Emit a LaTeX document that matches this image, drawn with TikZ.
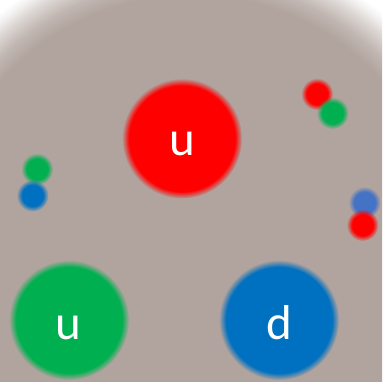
\documentclass[tikz,border=0pt]{standalone}
\usepackage{fontspec}
\setmainfont{Carlito}
\usetikzlibrary{fadings}

\definecolor{bgc}{RGB}{177,164,158}
\definecolor{qred}{RGB}{255,0,0}
\definecolor{qgreen}{RGB}{0,176,80}
\definecolor{qblue}{RGB}{0,112,192}
\definecolor{qlblue}{RGB}{68,114,196}

% soft vignette towards the upper corners
\pgfdeclareradialshading{vignette}{\pgfpointorigin}{%
  color(0bp)=(bgc); color(20.9bp)=(bgc); color(22.2bp)=(bgc!80!white);
  color(23.5bp)=(bgc!45!white); color(24.4bp)=(bgc!15!white);
  color(25bp)=(white); color(50bp)=(white)}

% soft-edged discs: 25bp is the rim of the filled circle
\pgfdeclareradialshading{bigsoftshade}{\pgfpointorigin}{%
  color(0bp)=(white); color(22bp)=(white); color(25bp)=(black); color(50bp)=(black)}
\pgfdeclarefading{bigsoft}{\pgfuseshading{bigsoftshade}}
\pgfdeclareradialshading{smallsoftshade}{\pgfpointorigin}{%
  color(0bp)=(white); color(16.5bp)=(white); color(25bp)=(black); color(50bp)=(black)}
\pgfdeclarefading{smallsoft}{\pgfuseshading{smallsoftshade}}

\tikzset{
  quark/.style={path fading=bigsoft},
  dot/.style={path fading=smallsoft},
  flavour/.style={text=white, inner sep=0pt, anchor=base,
    font=\fontsize{49}{49}\selectfont}
}

\begin{document}
\begin{tikzpicture}[x=1pt,y=-1pt]
  \useasboundingbox (0,0) rectangle (382,382);
  \clip (0,0) rectangle (382,382);
  \fill[white] (0,0) rectangle (382,382);
  \shade[shading=vignette] (191,250) circle (305);

  % large quarks
  \fill[qred,quark]   (182,138.5) circle (60);
  \fill[qgreen,quark] (69,320)    circle (60);
  \fill[qblue,quark]  (279,320)   circle (60);

  \node[flavour] (uone) at (182,156) {u};
  \node[flavour] (utwo) at (68.5,339) {u};
  \node[flavour] (done) at (279,339) {d};

  % small colour dots
  \fill[qgreen,dot] (37,169)    circle (16);
  \fill[qblue,dot]  (32.5,195.5) circle (16);
  \fill[qred,dot]   (317,94)    circle (16);
  \fill[qgreen,dot] (332.5,113) circle (16);
  \fill[qlblue,dot] (364.5,202.5) circle (16);
  \fill[qred,dot]   (362.5,225) circle (16);
\end{tikzpicture}
\end{document}
